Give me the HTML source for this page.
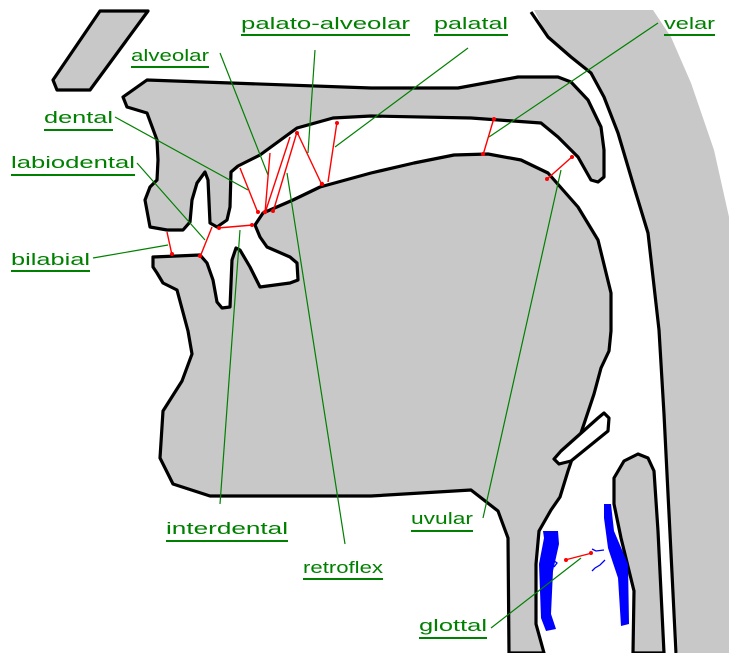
<!DOCTYPE html>
<html><head><meta charset="utf-8"><style>
html,body{margin:0;padding:0;background:#fff;}
svg{display:block;}
text{font-family:"Liberation Sans",sans-serif;font-size:17px;fill:#008000;}
</style></head><body>
<svg width="742" height="662" viewBox="0 0 742 662" xmlns="http://www.w3.org/2000/svg">
<!-- pharynx wall gray -->
<path d="M534,10 L653,10 L671,37 L691,83 L714,150 L729,217 L729,653 L678,653 L664,414 L659,330 L648,233 L634,187 L618,133 L604,97 L591,73 L571,57 L548,37 Z" fill="#c8c8c8"/>
<g stroke="#000" stroke-width="3.2" stroke-linejoin="round" fill="#c8c8c8">
<path d="M531,12 L548,37 L571,57 L591,73 L604,97 L618,133 L634,187 L648,233 L659,330 L664,414 L676,653" fill="none"/>
<!-- nose -->
<polygon points="100,11 148,11 90,90 57,90 53,80"/>
<!-- palate, velum, upper lip, upper tooth -->
<polygon points="123,97 147,80 371,88 458,88 518,77 558,77 571,82 588,100 601,127 604,150 604,177 598,182 591,180 578,157 558,137 541,123 471,118 371,116 333,118 297,128 260,155 238,166 231,172 230,207 227,220 217,227 210,223 208,180 205,172 197,183 192,200 190,222 183,230 167,230 150,227 145,200 150,187 157,180 158,160 157,140 147,113 127,107"/>
<!-- jaw + tongue -->
<polygon points="153,257 200,255 207,263 213,280 217,302 222,308 230,307 232,260 236,248 240,250 250,267 260,287 290,283 298,280 297,263 290,257 267,247 260,237 255,225 263,213 293,200 320,187 371,173 414,163 454,155 488,154 521,160 548,173 578,207 598,240 611,293 611,331 609,351 601,368 594,394 584,424 568,471 560,497 551,510 539,531 536,564 536,624 544,653 509,653 508,538 498,511 471,490 371,496 210,496 173,484 160,458 163,411 182,381 192,354 188,331 177,290 163,283 157,273 153,267"/>
<!-- epiglottis loop -->
<polygon points="604,413 609,418 608,431 571,461 559,464 554,459 561,451 598,418" fill="#fff"/>
<!-- larynx back shape -->
<polygon points="633,653 634,591 621,538 614,504 614,478 624,461 638,454 648,458 654,471 658,531 664,653"/>
</g>
<rect x="505" y="653" width="240" height="10" fill="#fff"/>
<!-- vocal folds -->
<g fill="#0000ff">
<polygon points="543,531 558,531 559,544 553,571 551,614 556,629 546,631 541,618 539,564 544,538"/>
<polygon points="604,504 611,504 614,531 628,564 629,624 621,626 618,578 608,548 604,518"/>
</g>
<g stroke="#0000ff" stroke-width="1.3" fill="none">
<path d="M553,560 L557,563 L554,567"/>
<path d="M604,550 L596,551 L592,549"/>
<path d="M605,560 L600,565 L595,568 L592,571"/>
</g>
<!-- green leader lines -->
<g stroke="#008000" stroke-width="1.2" fill="none">
<line x1="468" y1="48" x2="335" y2="147"/>
<line x1="658" y1="23" x2="489" y2="137"/>
<line x1="315" y1="50" x2="308" y2="153"/>
<line x1="220" y1="53" x2="268" y2="175"/>
<line x1="115" y1="117" x2="248" y2="190"/>
<line x1="137" y1="163" x2="205" y2="240"/>
<line x1="93" y1="258" x2="168" y2="245"/>
<line x1="240" y1="230" x2="220" y2="504"/>
<line x1="287" y1="173" x2="345" y2="544"/>
<line x1="561" y1="170" x2="483" y2="518"/>
<line x1="491" y1="628" x2="581" y2="558"/>
</g>
<!-- red arrows -->
<g stroke="#ff0000" stroke-width="1.4" fill="none">
<line x1="494" y1="118" x2="483" y2="155"/>
<line x1="546" y1="180" x2="573" y2="156"/>
<line x1="337" y1="122" x2="328" y2="182"/>
<line x1="297" y1="132" x2="322" y2="185"/>
<line x1="297" y1="132" x2="273" y2="212"/>
<line x1="290" y1="137" x2="265" y2="213"/>
<line x1="270" y1="153" x2="265" y2="213"/>
<line x1="240" y1="168" x2="258" y2="213"/>
<line x1="218" y1="228" x2="253" y2="225"/>
<line x1="212" y1="227" x2="200" y2="257"/>
<line x1="167" y1="232" x2="172" y2="255"/>
<line x1="565" y1="560" x2="592" y2="553"/>
</g>
<g fill="#ff0000">
<circle cx="494" cy="119" r="2"/><circle cx="483" cy="154" r="2"/>
<circle cx="547" cy="179" r="2"/><circle cx="572" cy="157" r="2"/>
<circle cx="337" cy="123" r="2"/><circle cx="322" cy="184" r="2.2"/>
<circle cx="297" cy="133" r="2"/><circle cx="265" cy="212" r="2.2"/>
<circle cx="273" cy="211" r="2"/><circle cx="258" cy="212" r="2"/>
<circle cx="219" cy="228" r="2"/><circle cx="252" cy="225" r="2"/>
<circle cx="200" cy="256" r="2"/><circle cx="172" cy="254" r="2"/>
<circle cx="566" cy="560" r="2"/><circle cx="591" cy="553" r="2"/>
</g>
<!-- labels -->
<g>
<text x="241" y="29" textLength="169" lengthAdjust="spacingAndGlyphs">palato-alveolar</text>
<text x="131" y="61" textLength="78" lengthAdjust="spacingAndGlyphs">alveolar</text>
<text x="434" y="29" textLength="74" lengthAdjust="spacingAndGlyphs">palatal</text>
<text x="664" y="29" textLength="51" lengthAdjust="spacingAndGlyphs">velar</text>
<text x="44" y="123" textLength="69" lengthAdjust="spacingAndGlyphs">dental</text>
<text x="11" y="168" textLength="124" lengthAdjust="spacingAndGlyphs">labiodental</text>
<text x="11" y="265" textLength="79" lengthAdjust="spacingAndGlyphs">bilabial</text>
<text x="166" y="534" textLength="122" lengthAdjust="spacingAndGlyphs">interdental</text>
<text x="303" y="573" textLength="80" lengthAdjust="spacingAndGlyphs">retroflex</text>
<text x="411" y="524" textLength="62" lengthAdjust="spacingAndGlyphs">uvular</text>
<text x="419" y="631" textLength="68" lengthAdjust="spacingAndGlyphs">glottal</text>
</g>
<g stroke="#008000" stroke-width="2" fill="none">
<line x1="241" y1="35" x2="410" y2="35"/>
<line x1="131" y1="67" x2="209" y2="67"/>
<line x1="434" y1="35" x2="508" y2="35"/>
<line x1="664" y1="35" x2="715" y2="35"/>
<line x1="44" y1="130" x2="113" y2="130"/>
<line x1="11" y1="175" x2="135" y2="175"/>
<line x1="11" y1="271" x2="90" y2="271"/>
<line x1="166" y1="541" x2="288" y2="541"/>
<line x1="303" y1="579" x2="383" y2="579"/>
<line x1="411" y1="531" x2="473" y2="531"/>
<line x1="419" y1="638" x2="487" y2="638"/>
</g>
</svg>
</body></html>
